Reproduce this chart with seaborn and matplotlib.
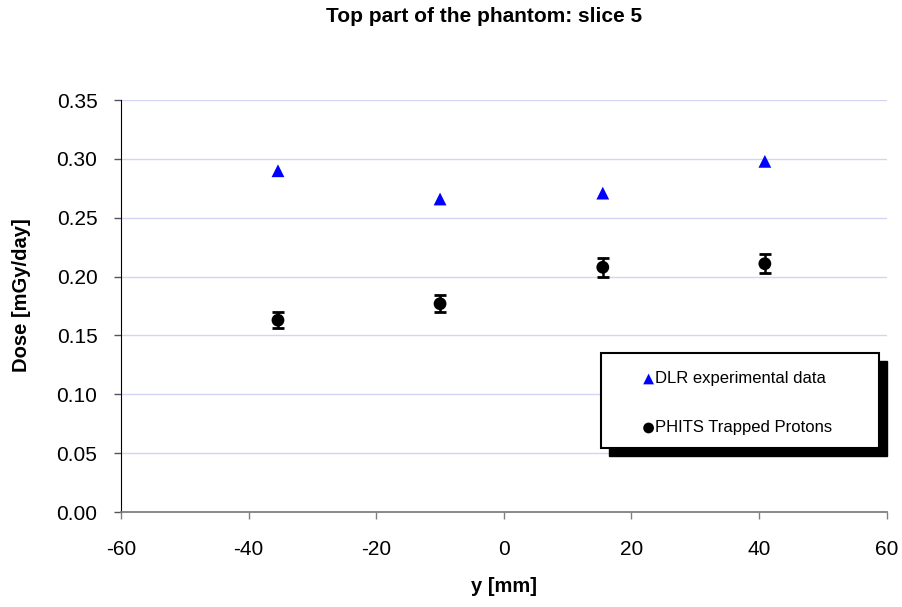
import numpy as np
import pandas as pd
import seaborn as sns
import matplotlib.pyplot as plt
from matplotlib.patches import Rectangle

# values
y_pos = [-35.4, -10.0, 15.5, 40.9]
dlr_dose = [0.290, 0.266, 0.271, 0.298]
phits_dose = [0.163, 0.177, 0.208, 0.211]
phits_err = [0.007, 0.007, 0.008, 0.008]
labels = ['DLR experimental data', 'PHITS Trapped Protons']

df = pd.DataFrame({'y': y_pos * 2,
                   'dose': dlr_dose + phits_dose,
                   'series': [labels[0]] * 4 + [labels[1]] * 4})

sns.set_style("white")
plt.rcParams['font.family'] = ['Liberation Sans', 'DejaVu Sans']
plt.rcParams['axes.unicode_minus'] = False
plt.rcParams['text.color'] = 'black'
plt.rcParams['axes.labelcolor'] = 'black'
plt.rcParams['xtick.color'] = 'black'
plt.rcParams['ytick.color'] = 'black'

fig = plt.figure(figsize=(9.03, 6.07), dpi=100)
ax = fig.add_axes([0.134, 0.1565, 0.848, 0.6785])

# error bars first so the markers sit on top
ax.errorbar(y_pos, phits_dose, yerr=phits_err, fmt='none', ecolor='black',
            elinewidth=1.8, capsize=4.5, capthick=2, zorder=2)

sns.scatterplot(data=df, x='y', y='dose', hue='series', style='series',
                palette={labels[0]: '#0000ff', labels[1]: 'black'},
                markers={labels[0]: '^', labels[1]: 'o'},
                s=85, edgecolor='none', ax=ax, zorder=3, legend=False)

ax.set_xlim(-60, 60)
ax.set_ylim(0, 0.35)
ax.set_xticks(np.arange(-60, 61, 20))
ax.set_yticks(np.arange(0, 0.351, 0.05))
ax.set_yticklabels([f'{v:.2f}' for v in np.arange(0, 0.351, 0.05)])
ax.grid(axis='y', color='#d4d4f7', linewidth=1)
ax.grid(axis='x', visible=False)
ax.set_axisbelow(True)
for s in ['top', 'right']:
    ax.spines[s].set_visible(False)
ax.spines['left'].set_color('black')
ax.spines['bottom'].set_color('#808080')
ax.spines['bottom'].set_linewidth(1.3)
ax.tick_params(axis='both', direction='out', length=5, width=1, labelsize=15,
               bottom=True, left=True)
ax.tick_params(axis='y', color='#555555', pad=12)
ax.tick_params(axis='x', color='#808080', pad=15)

ax.set_xlabel('y [mm]', fontsize=14.5, fontweight='bold')
ax.set_ylabel('Dose [mGy/day]', fontsize=14.5, fontweight='bold')
ax.xaxis.set_label_coords(0.5, -0.158)
ax.yaxis.set_label_coords(-0.117, 0.527)
fig.text(0.536, 0.972, 'Top part of the phantom: slice 5', fontsize=15,
         fontweight='bold', ha='center', va='center')

# legend box with a solid black drop shadow, like the original
x0, y0, w, h = 0.627, 0.155, 0.363, 0.231
ax.add_patch(Rectangle((x0 + 0.0104, y0 - 0.0194), w, h, transform=ax.transAxes,
                       facecolor='black', edgecolor='black', zorder=5, clip_on=False))
ax.add_patch(Rectangle((x0, y0), w, h, transform=ax.transAxes,
                       facecolor='white', edgecolor='black', linewidth=1.5, zorder=6, clip_on=False))
legend_y = [0.323, 0.204]
legend_colors = ['#0000ff', 'black']
legend_markers = ['^', 'o']
for lab, ly, lc, lm in zip(labels, legend_y, legend_colors, legend_markers):
    ax.scatter([x0 + 0.062], [ly], transform=ax.transAxes, marker=lm,
               color=lc, s=60, edgecolor='none', zorder=7, clip_on=False)
    ax.text(x0 + 0.071, ly, lab, transform=ax.transAxes,
            va='center', ha='left', fontsize=12, zorder=7)

plt.savefig('out.png', dpi=100)
